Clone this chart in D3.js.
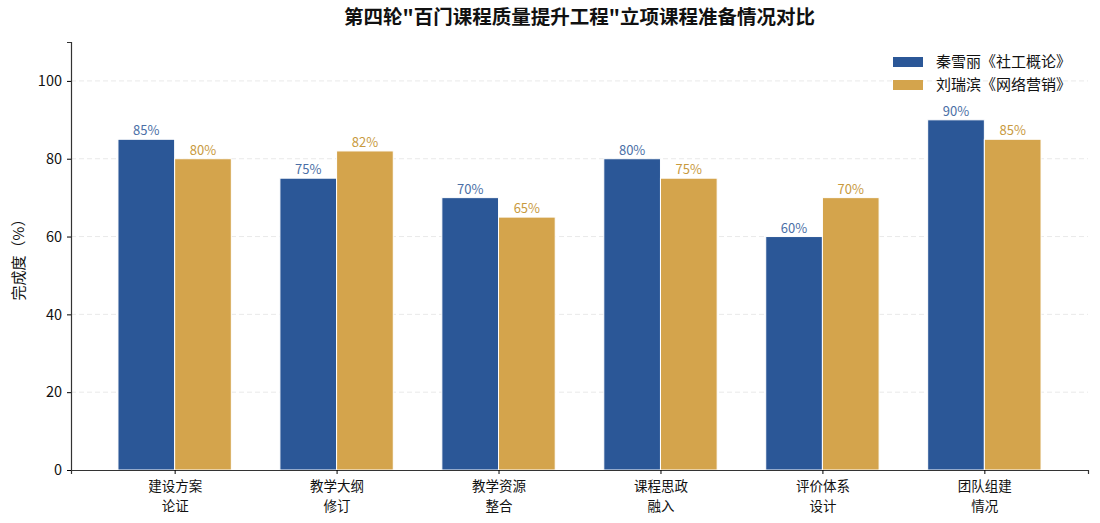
<!DOCTYPE html>
<html>
<head>
<meta charset="utf-8">
<script src="https://cdn.jsdelivr.net/npm/d3@7"></script>
<style>
  body { margin: 0; background: #fff; }
  text { font-family: "Noto Sans CJK SC", "DejaVu Sans", sans-serif; }
</style>
</head>
<body>
<script>
var categories = ["建设方案\n论证", "教学大纲\n修订", "教学资源\n整合", "课程思政\n融入", "评价体系\n设计", "团队组建\n情况"];
var seriesNames = ["秦雪丽《社工概论》", "刘瑞滨《网络营销》"];
var qinValues = [85, 75, 70, 80, 60, 90];
var liuValues = [80, 82, 65, 75, 70, 85];
var yTicks = [0, 20, 40, 60, 80, 100];

var colors = ["#2b5797", "#d4a44c"];
var labelColors = ["#4b6fa6", "#c89a3e"];
var width = 1100, height = 523;
var margin = {left: 71, right: 12, top: 42, bottom: 53};

var svg = d3.select('body')
            .append('svg')
            .attr('width', width)
            .attr('height', height);

var x = d3.scaleLinear()
          .domain([-0.64, categories.length - 1 + 0.64])
          .range([margin.left, width - margin.right]);
var y = d3.scaleLinear()
          .domain([0, 110])
          .range([height - margin.bottom, margin.top]);
var barW = 0.35;

// grid
svg.append('g')
   .selectAll('line')
   .data(yTicks.slice(1))
   .enter()
   .append('line')
   .attr('x1', margin.left)
   .attr('x2', width - margin.right)
   .attr('y1', function (d) { return y(d); })
   .attr('y2', function (d) { return y(d); })
   .attr('stroke', '#e3e3e3')
   .attr('stroke-width', 0.8)
   .attr('stroke-dasharray', '5,3');

var series = [qinValues, liuValues];
series.forEach(function (vals, s) {
    var off = s === 0 ? -barW / 2 : barW / 2;
    svg.append('g')
       .selectAll('rect')
       .data(vals)
       .enter()
       .append('rect')
       .attr('x', function (d, i) { return x(i + off - barW / 2); })
       .attr('y', function (d) { return y(d); })
       .attr('width', x(barW) - x(0))
       .attr('height', function (d) { return y(0) - y(d); })
       .attr('fill', colors[s])
       .attr('stroke', '#fff')
       .attr('stroke-width', 1);
    svg.append('g')
       .selectAll('text')
       .data(vals)
       .enter()
       .append('text')
       .attr('x', function (d, i) { return x(i + off); })
       .attr('y', function (d) { return y(d) - 4; })
       .attr('text-anchor', 'middle')
       .attr('font-size', 13)
       .attr('fill', labelColors[s])
       .text(function (d) { return d + '%'; });
});

// axes
var yAxis = svg.append('g')
   .attr('transform', 'translate(' + margin.left + ',0)')
   .call(d3.axisLeft(y).tickValues(yTicks).tickSize(4).tickPadding(5));
yAxis.select('.domain').attr('stroke', '#333').attr('stroke-width', 1.2);
yAxis.selectAll('text').attr('font-size', 14.5).attr('fill', '#111')
     .style('font-family', '"Noto Sans CJK SC", sans-serif');

var xAxis = svg.append('g')
   .attr('transform', 'translate(0,' + y(0) + ')')
   .call(d3.axisBottom(x).tickValues(d3.range(categories.length)).tickSize(4).tickFormat(''));
xAxis.select('.domain').attr('stroke', '#333').attr('stroke-width', 1.2);
xAxis.selectAll('.tick').each(function (d) {
    var lines = categories[d].split('\n');
    lines.forEach(function (ln, k) {
        d3.select(this).append('text')
          .attr('fill', '#111')
          .attr('font-size', 13.5)
          .attr('text-anchor', 'middle')
          .attr('x', 0)
          .attr('y', 21 + k * 19.6)
          .text(ln);
    }, this);
});

// y label
svg.append('text')
   .attr('transform', 'translate(24,' + (y(55)) + ') rotate(-90)')
   .attr('text-anchor', 'middle')
   .attr('font-size', 15)
   .attr('fill', '#111')
   .text('完成度（%）');

// title
svg.append('text')
   .attr('x', (margin.left + width - margin.right) / 2)
   .attr('y', 24)
   .attr('text-anchor', 'middle')
   .attr('font-size', 19.5)
   .attr('font-weight', 'bold')
   .attr('fill', '#111')
   .text('第四轮"百门课程质量提升工程"立项课程准备情况对比');

// legend
var lg = svg.append('g').attr('transform', 'translate(893,62)');
seriesNames.forEach(function (n, i) {
    var g = lg.append('g').attr('transform', 'translate(0,' + (i * 23) + ')');
    g.append('rect').attr('x', 0).attr('y', -5).attr('width', 30).attr('height', 10).attr('fill', colors[i]);
    g.append('text').attr('x', 43).attr('y', 5).attr('font-size', 15).attr('fill', '#111').text(n);
});
</script>
</body>
</html>
